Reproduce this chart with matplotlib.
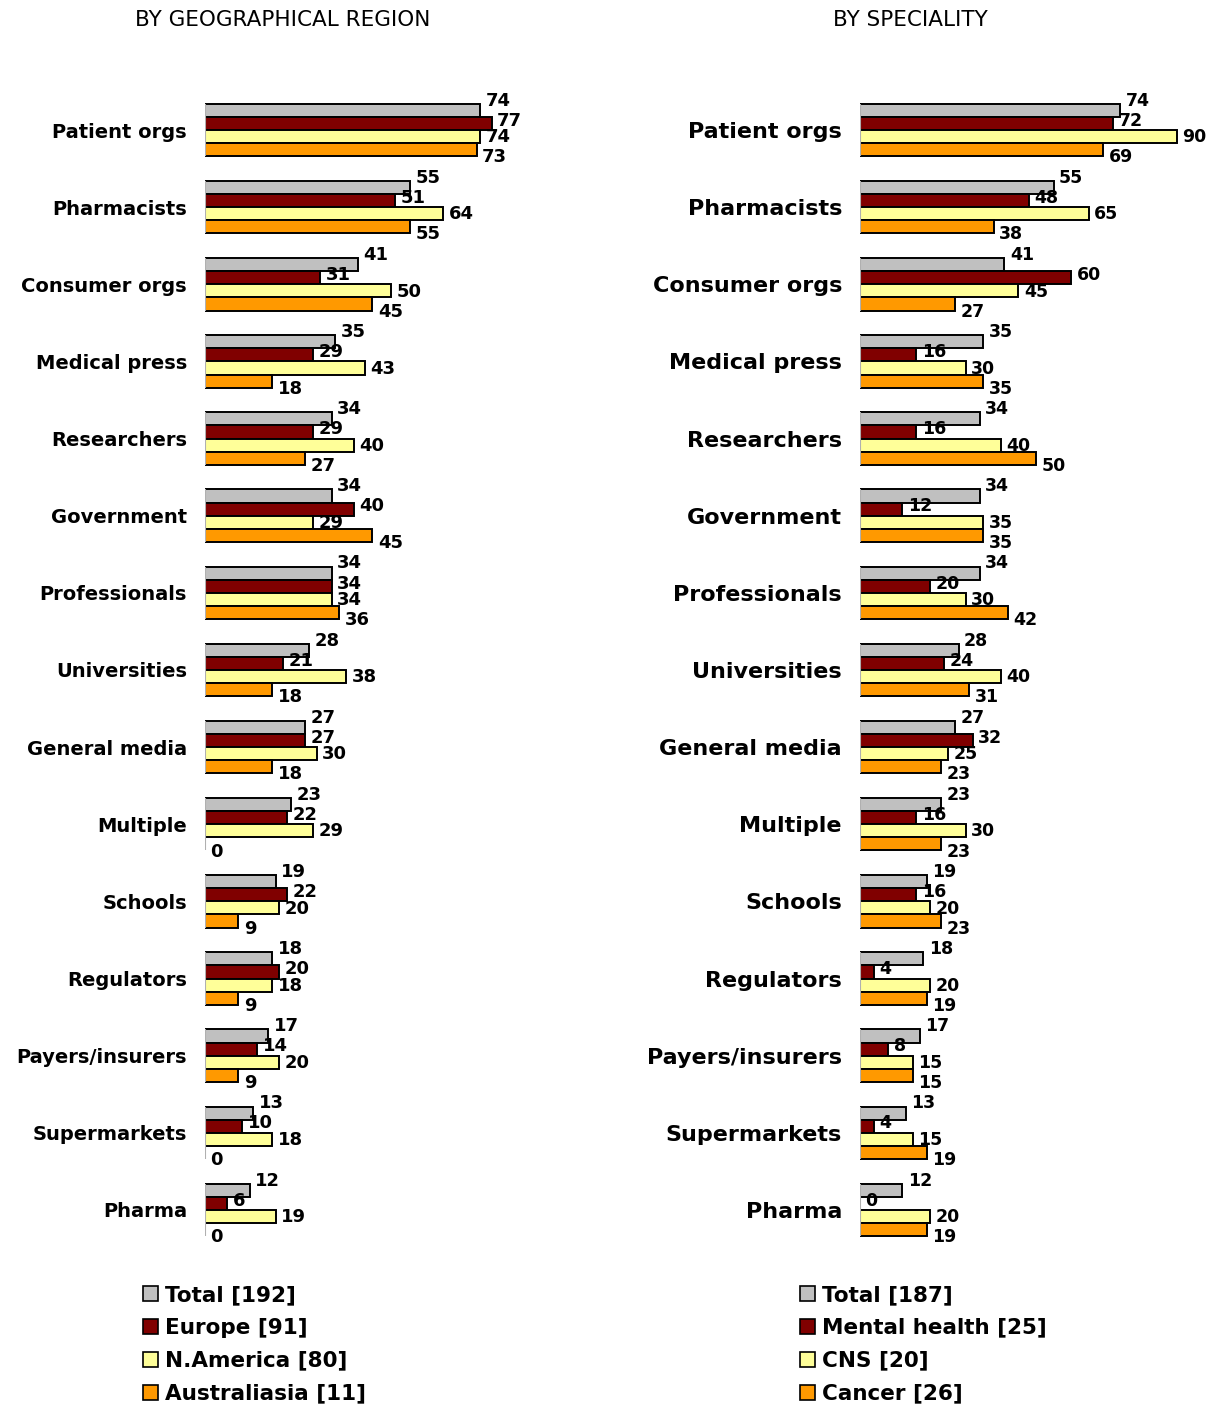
import numpy as np
import matplotlib.pyplot as plt
from matplotlib.patches import Patch

categories = ["Patient orgs", "Pharmacists", "Consumer orgs", "Medical press",
              "Researchers", "Government", "Professionals", "Universities",
              "General media", "Multiple", "Schools", "Regulators",
              "Payers/insurers", "Supermarkets", "Pharma"]

# by geographical region
region_labels = ["Total [192]", "Europe [91]", "N.America [80]", "Australiasia [11]"]
reg_total = [74, 55, 41, 35, 34, 34, 34, 28, 27, 23, 19, 18, 17, 13, 12]
reg_europe = [77, 51, 31, 29, 29, 40, 34, 21, 27, 22, 22, 20, 14, 10, 6]
reg_namerica = [74, 64, 50, 43, 40, 29, 34, 38, 30, 29, 20, 18, 20, 18, 19]
reg_austral = [73, 55, 45, 18, 27, 45, 36, 18, 18, 0, 9, 9, 9, 0, 0]

# by speciality
spec_labels = ["Total [187]", "Mental health [25]", "CNS [20]", "Cancer [26]"]
spec_total = [74, 55, 41, 35, 34, 34, 34, 28, 27, 23, 19, 18, 17, 13, 12]
spec_mental = [72, 48, 60, 16, 16, 12, 20, 24, 32, 16, 16, 4, 8, 4, 0]
spec_cns = [90, 65, 45, 30, 40, 35, 30, 40, 25, 30, 20, 20, 15, 15, 20]
spec_cancer = [69, 38, 27, 35, 50, 35, 42, 31, 23, 23, 23, 19, 15, 19, 19]

colors = ["#C0C0C0", "#800000", "#FFFF99", "#FF9900"]
bar_h = 0.17
label_dy = [-7, -2, 0.5, 5.5]   # points, spreads the value labels a little

fig = plt.figure(figsize=(12.15, 14.05), dpi=100)


def draw_panel(ax, series, xmax, cat_size, val_size):
    y = np.arange(len(categories))
    for k, vals in enumerate(series):
        pos = y + (k - 1.5) * bar_h
        ax.barh(pos, vals, height=bar_h, color=colors[k],
                edgecolor="black", linewidth=1.4)
        for p, v in zip(pos, vals):
            ax.annotate(str(v), (v, p), xytext=(4, -label_dy[k]),
                        textcoords="offset points", ha="left", va="center",
                        fontsize=val_size, fontweight="bold")
    # light left edge on each group of bars
    ax.vlines(np.zeros(len(y)), y - 2 * bar_h, y + 2 * bar_h,
              color="#B0B0B0", linewidth=1.5, zorder=3)
    ax.set_xlim(0, xmax)
    ax.set_ylim(len(categories) - 0.5, -0.5)
    ax.set_yticks(y)
    ax.set_yticklabels(categories, fontsize=cat_size, fontweight="bold")
    ax.tick_params(axis="y", length=0, pad=13)
    ax.set_xticks([])
    for s in ax.spines.values():
        s.set_visible(False)


ax1 = fig.add_axes([0.1687, 0.1114, 0.2757, 0.8235])
draw_panel(ax1, [reg_total, reg_europe, reg_namerica, reg_austral], 90, 14, 13)

ax2 = fig.add_axes([0.7078, 0.1114, 0.2897, 0.8235])
draw_panel(ax2, [spec_total, spec_mental, spec_cns, spec_cancer], 100, 16, 12.5)

fig.text(283 / 1215, 1 - 20 / 1405, "BY GEOGRAPHICAL REGION", ha="center",
         va="center", fontsize=15.5)
fig.text(910 / 1215, 1 - 20 / 1405, "BY SPECIALITY", ha="center",
         va="center", fontsize=15.5)


def add_legend(labels, x):
    handles = [Patch(facecolor=c, edgecolor="black", linewidth=1.2) for c in colors]
    fig.legend(handles, labels, loc="upper left", bbox_to_anchor=(x, 0.0855),
               frameon=False, borderpad=0, borderaxespad=0,
               handlelength=0.7, handleheight=0.7, handletextpad=0.3,
               labelspacing=0.6, prop={"size": 15.5, "weight": "bold"})


add_legend(region_labels, 143 / 1215)
add_legend(spec_labels, 800 / 1215)

fig.savefig("out.png", dpi=100)
